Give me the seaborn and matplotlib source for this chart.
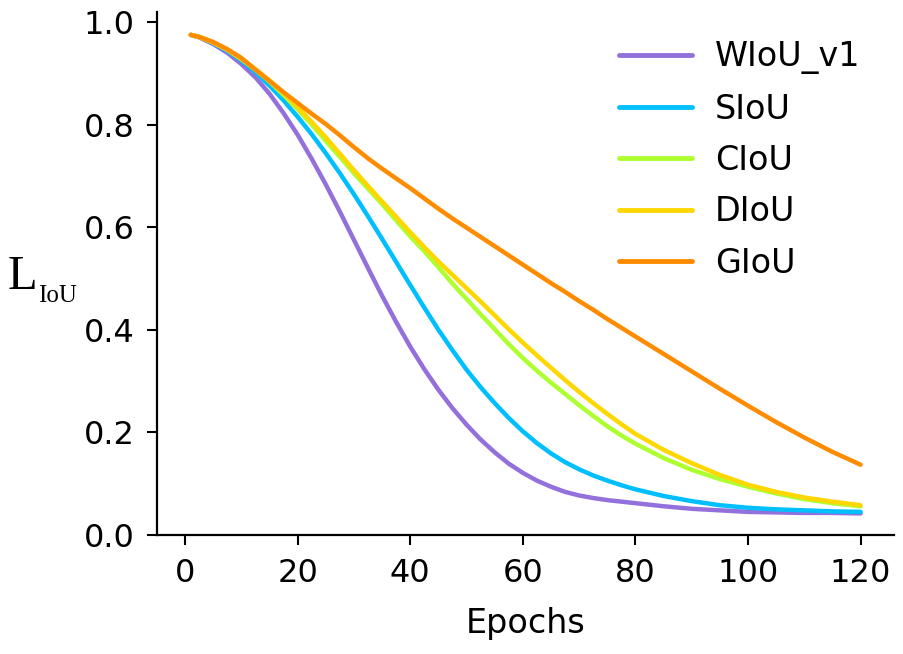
import numpy as np
import pandas as pd
import matplotlib
matplotlib.use("Agg")
import matplotlib.pyplot as plt
import seaborn as sns

epochs = [1, 2.5, 5, 7.5, 10, 12.5, 15, 17.5, 20, 22.5, 25, 27.5, 30, 32.5, 35,
          37.5, 40, 42.5, 45, 47.5, 50, 52.5, 55, 57.5, 60, 62.5, 65, 67.5, 70,
          72.5, 75, 77.5, 80, 85, 90, 95, 100, 105, 110, 115, 120]

wiou_v1 = [0.975, 0.970, 0.957, 0.940, 0.918, 0.892, 0.860, 0.822, 0.780, 0.733,
           0.683, 0.630, 0.575, 0.520, 0.466, 0.415, 0.367, 0.323, 0.283, 0.247,
           0.215, 0.186, 0.161, 0.139, 0.121, 0.106, 0.094, 0.084, 0.077, 0.072,
           0.068, 0.065, 0.062, 0.056, 0.051, 0.048, 0.045, 0.044, 0.043, 0.043,
           0.042]
siou = [0.975, 0.971, 0.959, 0.944, 0.925, 0.902, 0.876, 0.847, 0.815, 0.781,
        0.744, 0.705, 0.664, 0.621, 0.577, 0.532, 0.487, 0.443, 0.400, 0.360,
        0.322, 0.288, 0.257, 0.228, 0.202, 0.179, 0.159, 0.142, 0.128, 0.116,
        0.106, 0.097, 0.089, 0.076, 0.066, 0.058, 0.053, 0.050, 0.048, 0.046,
        0.045]
ciou = [0.975, 0.971, 0.960, 0.946, 0.928, 0.907, 0.884, 0.858, 0.830, 0.800,
        0.768, 0.737, 0.705, 0.675, 0.645, 0.613, 0.582, 0.553, 0.522, 0.490,
        0.460, 0.430, 0.401, 0.372, 0.345, 0.320, 0.297, 0.275, 0.253, 0.232,
        0.212, 0.194, 0.178, 0.150, 0.127, 0.109, 0.094, 0.081, 0.070, 0.062,
        0.056]
diou = [0.975, 0.971, 0.960, 0.946, 0.928, 0.908, 0.886, 0.861, 0.834, 0.805,
        0.775, 0.743, 0.711, 0.680, 0.650, 0.620, 0.590, 0.561, 0.533, 0.507,
        0.481, 0.455, 0.428, 0.401, 0.375, 0.350, 0.326, 0.302, 0.279, 0.257,
        0.236, 0.216, 0.197, 0.166, 0.140, 0.117, 0.098, 0.084, 0.073, 0.065,
        0.058]
giou = [0.975, 0.971, 0.961, 0.947, 0.930, 0.907, 0.885, 0.863, 0.842, 0.821,
        0.801, 0.779, 0.756, 0.734, 0.714, 0.695, 0.676, 0.656, 0.636, 0.617,
        0.599, 0.581, 0.563, 0.545, 0.527, 0.509, 0.491, 0.474, 0.456, 0.439,
        0.421, 0.404, 0.387, 0.353, 0.319, 0.285, 0.252, 0.220, 0.190, 0.162,
        0.137]

series_names = ["WIoU_v1", "SIoU", "CIoU", "DIoU", "GIoU"]
series_values = [wiou_v1, siou, ciou, diou, giou]
colors = ["#9370DB", "#00BFFF", "#ADFF2F", "#FFD700", "#FF8C00"]

x_ticks = [0, 20, 40, 60, 80, 100, 120]
y_ticks = [0.0, 0.2, 0.4, 0.6, 0.8, 1.0]

df = pd.concat([pd.DataFrame({"Epochs": epochs, "loss": vals, "method": name})
                for name, vals in zip(series_names, series_values)],
               ignore_index=True)

sns.set_style("ticks")
plt.rcParams["font.family"] = ["DejaVu Sans"]

fig = plt.figure(figsize=(9.04, 6.54), dpi=100)
ax = fig.add_axes([0.174, 0.182, 0.815, 0.800])

sns.lineplot(data=df, x="Epochs", y="loss", hue="method",
             palette=dict(zip(series_names, colors)), hue_order=series_names,
             linewidth=3.2, ax=ax, legend=True)

ax.set_ylim(0, 1.02)
ax.set_xticks(x_ticks)
ax.set_yticks(y_ticks)
ax.set_yticklabels([f"{v:.1f}" for v in y_ticks])
ax.tick_params(axis="both", labelsize=23, length=7.5, width=1.5, pad=9,
               color="black", labelcolor="black")
for s in ["left", "bottom"]:
    ax.spines[s].set_linewidth(1.6)
    ax.spines[s].set_color("black")
sns.despine(ax=ax)

ax.set_xlabel("Epochs", fontsize=24, labelpad=13, color="black")
ax.set_ylabel("")

fig.text(0.008, 0.558, "L", fontsize=35, family="Liberation Serif",
         ha="left", va="baseline", color="black")
fig.text(0.042, 0.538, "IoU", fontsize=18, family="Liberation Serif",
         ha="left", va="baseline", color="black")

leg = ax.legend(frameon=False, fontsize=24, handlelength=2.2, handletextpad=0.7,
                labelspacing=0.55, loc="upper left",
                bbox_to_anchor=(0.651, 0.984), bbox_transform=fig.transFigure)
for line in leg.get_lines():
    line.set_linewidth(3.5)
for t in leg.get_texts():
    t.set_color("black")

fig.savefig("out.png", dpi=100)
